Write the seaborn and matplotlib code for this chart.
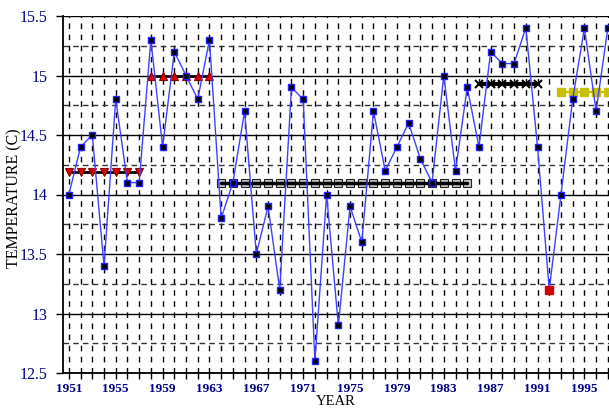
import matplotlib
matplotlib.use("Agg")
import matplotlib.pyplot as plt
import seaborn as sns
import pandas as pd
from matplotlib.ticker import FixedLocator, MultipleLocator

# yearly mean temperature
years = list(range(1951, 1998))
temps = [14.0, 14.4, 14.5, 13.4, 14.8, 14.1, 14.1,
         15.3, 14.4, 15.2, 15.0, 14.8, 15.3,
         13.8, 14.1, 14.7, 13.5, 13.9, 13.2, 14.9, 14.8, 12.6, 14.0,
         12.9, 13.9, 13.6, 14.7, 14.2, 14.4, 14.6, 14.3, 14.1, 15.0,
         14.2, 14.9,
         14.4, 15.2, 15.1, 15.1, 15.4, 14.4,
         13.2,
         14.0, 14.8, 15.4, 14.7, 15.4]

# regime levels (flat segments)
seg_start = [1951, 1958, 1964, 1986, 1992, 1993]
seg_end = [1957, 1963, 1985, 1991, 1992, 1997]
seg_level = [14.19, 15.0, 14.1, 14.93, 13.2, 14.86]

tick_years = list(range(1951, 1998, 4))

# marker style / line style per segment, line_on_top draws the line over markers
seg_styles = [
    dict(marker="v", mfc="#e00000", mec="#8a0000", ms=5.5, mew=0.8, color="black", lw=2),
    dict(marker="^", mfc="#e00000", mec="#8a0000", ms=5.5, mew=0.8, color="black", lw=2),
    dict(marker="s", mfc="#c8c8c8", mec="#202020", ms=5.5, mew=0.8, color="black", lw=2.5),
    dict(marker="x", mfc="black", mec="black", ms=5.5, mew=1.5, color="black", lw=3),
    dict(marker="s", mfc="#d00000", mec="#d00000", ms=5, color="#d00000", lw=1),
    dict(marker="s", mfc="#c8c000", mec="#c8c000", ms=5.5, color="#c8c000", lw=1.5),
]
line_on_top = [False, False, True, True, False, False]

sns.set_style("ticks")
plt.rcParams["font.family"] = ["Liberation Serif", "DejaVu Serif"]

fig = plt.figure(figsize=(6.09, 4.12), dpi=100)
ax = fig.add_axes([63 / 609, 39 / 412, 546 / 609, 357 / 412])

df = pd.DataFrame({"year": years, "temp": temps})

# grid first
ax.set_axisbelow(True)
ax.grid(which="major", axis="y", color="black", lw=1, ls="-")
ax.grid(which="minor", axis="y", color="#333333", lw=1, ls=(0, (4, 3)))
ax.grid(which="both", axis="x", color="black", lw=1, ls=(0, (4, 4)))

for s, e, lev, st, top in zip(seg_start, seg_end, seg_level, seg_styles, line_on_top):
    xs = list(range(s, e + 1))
    seg = pd.DataFrame({"year": xs, "temp": [lev] * len(xs)})
    st = dict(st)
    col, lw = st.pop("color"), st.pop("lw")
    ax.plot(seg["year"], seg["temp"], ls="none", zorder=2, **st)
    ax.plot(seg["year"], seg["temp"], color=col, lw=lw,
            zorder=2.1 if top else 1.9)

sns.lineplot(data=df, x="year", y="temp", ax=ax, color="#4040ff", lw=1,
             marker="s", markersize=5, markerfacecolor="black",
             markeredgecolor="#2020ff", markeredgewidth=1, zorder=3)

# the 1992 point is drawn red on top
red = df[df["year"] == 1992]
ax.plot(red["year"], red["temp"], marker="s", ms=5.5, mfc="#d00000",
        mec="#d00000", ls="none", zorder=4)

ax.set_xlim(1950.5, 1997.1)
ax.set_ylim(12.5, 15.5)
ax.xaxis.set_major_locator(FixedLocator(tick_years))
ax.xaxis.set_minor_locator(MultipleLocator(1))
ax.yaxis.set_major_locator(MultipleLocator(0.5))
ax.yaxis.set_minor_locator(MultipleLocator(0.25))
ax.set_yticks([12.5, 13, 13.5, 14, 14.5, 15, 15.5])
ax.set_yticklabels(["12.5", "13", "13.5", "14", "14.5", "15", "15.5"])

ax.tick_params(axis="x", which="both", direction="out", length=4, width=1,
               color="black", labelsize=9.5, labelcolor="#000080", pad=3)
ax.tick_params(axis="y", which="major", direction="out", length=5, width=1,
               color="black", labelsize=11.5, labelcolor="#000080", pad=6)
ax.tick_params(axis="y", which="minor", length=0)
for lab in ax.get_xticklabels():
    lab.set_fontweight("bold")

for side in ["top", "right"]:
    ax.spines[side].set_visible(False)
for side in ["left", "bottom"]:
    ax.spines[side].set_color("black")
    ax.spines[side].set_linewidth(1.3)

ax.set_xlabel("YEAR", fontsize=10.5, color="black", labelpad=0)
ax.set_ylabel("TEMPERATURE (C)", fontsize=11.5, color="black")
ax.yaxis.set_label_coords(-0.075, 0.49)

fig.savefig("out.png", dpi=100)
